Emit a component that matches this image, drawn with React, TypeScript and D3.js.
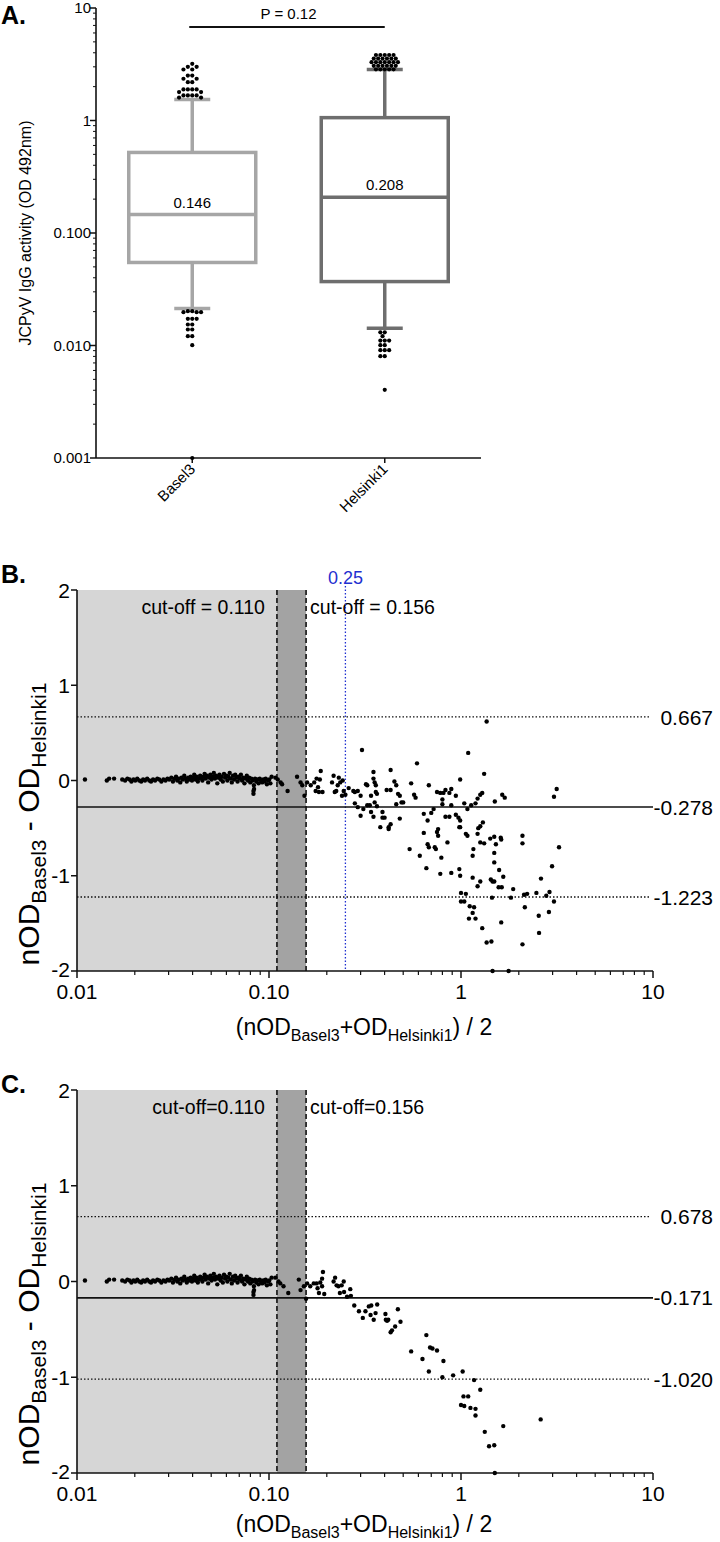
import React from 'react';
import * as d3 from 'd3';

// ---------- Panel A data ----------
const groups = ['Basel3', 'Helsinki1'];
const boxQ1 = [0.0547, 0.037];
const boxMedian = [0.146, 0.208];
const boxQ3 = [0.52, 1.06];
const whiskerLow = [0.0213, 0.0142];
const whiskerHigh = [1.54, 2.84];
const medianLabels = ['0.146', '0.208'];
const groupColors = ['#a6a6a6', '#6e6e6e'];
const baselOutliers = [
  3.19, 3.0, 3.0, 2.84, 2.84, 2.51, 2.51, 2.35, 2.35, 2.19, 2.19,
  1.89, 1.89, 1.89, 1.89, 1.79, 1.79, 1.67, 1.67, 1.67, 1.67, 1.6, 1.6,
  0.0202, 0.0202, 0.0198, 0.0198, 0.0198, 0.01726, 0.01726, 0.01726,
  0.01537, 0.01537, 0.01387, 0.01387, 0.0121, 0.0121, 0.01007, 0.001,
];
const helsinkiOutliers = [
  3.82, 3.82, 3.82, 3.82, 3.82, 3.55, 3.55, 3.55, 3.55, 3.55, 3.55,
  3.3, 3.3, 3.3, 3.3, 3.3, 3.3, 3.3, 3.06, 3.06, 3.06, 3.06, 3.06, 3.06,
  2.85, 2.85, 2.85, 2.85, 2.85,
  0.0131, 0.0131, 0.0121, 0.01107, 0.01107, 0.01107, 0.01006, 0.01006,
  0.00908, 0.00908, 0.00908, 0.00803, 0.00803, 0.00404,
];
const yTicksA = [0.001, 0.01, 0.1, 1, 10];
const yTickLabelsA = ['0.001', '0.010', '0.100', '1', '10'];
const pLabel = 'P = 0.12';
const yTitleA = 'JCPyV IgG activity (OD 492nm)';

// ---------- Panel B / C data : [mean, difference] ----------
const lowBand: [number, number][] = [
  [0.011, 0.01], [0.0143, 0.0], [0.0147, 0.02], [0.0156, 0.02],
  [0.0172, 0.01], [0.0178, 0.0], [0.0183, 0.02], [0.0188, 0.01], [0.0192, -0.01], [0.0197, 0.01],
  [0.0201, 0.0], [0.0206, 0.02], [0.0211, 0.0], [0.0216, -0.01], [0.0221, 0.01], [0.0226, 0.0],
  [0.0232, 0.02], [0.0238, 0.0], [0.0243, -0.01], [0.0249, 0.01], [0.0255, 0.0], [0.0262, 0.02],
  [0.0268, 0.01], [0.0275, -0.01], [0.0282, 0.01], [0.0289, 0.0], [0.0296, 0.02], [0.0302, 0.01],
  [0.031, 0.03], [0.0316, -0.01], [0.0322, 0.02], [0.0328, 0.04], [0.0333, 0.0], [0.0339, 0.02],
  [0.0345, -0.02], [0.035, 0.03], [0.0356, 0.01], [0.0362, 0.05], [0.0368, 0.02], [0.0373, -0.01],
  [0.0379, 0.03], [0.0385, 0.01], [0.0391, 0.04], [0.0397, 0.0], [0.0402, 0.03], [0.0408, 0.06],
  [0.0414, 0.01], [0.042, 0.04], [0.0426, -0.01], [0.0432, 0.02], [0.0438, 0.05], [0.0444, 0.03],
  [0.045, 0.0], [0.0456, 0.04], [0.0462, 0.07], [0.0468, 0.02], [0.0475, 0.05], [0.0482, -0.02],
  [0.0488, 0.03], [0.0495, 0.06], [0.0502, 0.01], [0.0509, 0.04], [0.0516, 0.08], [0.0523, 0.02],
  [0.053, 0.05], [0.0538, -0.03], [0.0545, 0.03], [0.0552, 0.06], [0.056, 0.01], [0.0567, 0.04],
  [0.0575, -0.01], [0.0583, 0.07], [0.0591, 0.03], [0.0599, 0.05], [0.0607, 0.0], [0.0615, 0.04],
  [0.0624, 0.08], [0.0632, 0.02], [0.064, -0.02], [0.0649, 0.05], [0.0658, 0.01], [0.0667, 0.06],
  [0.0676, 0.03], [0.0686, -0.01], [0.0695, 0.04], [0.0705, 0.02], [0.0714, 0.06], [0.0724, 0.0],
  [0.0734, 0.03], [0.0745, -0.03], [0.0755, 0.02], [0.0766, 0.05], [0.0777, 0.0], [0.0788, 0.03],
  [0.0799, -0.02], [0.081, 0.02], [0.0822, 0.0], [0.0834, -0.05], [0.0836, -0.09], [0.083, -0.11],
  [0.083, -0.14], [0.0846, 0.02], [0.0858, -0.01], [0.087, 0.01], [0.0882, -0.03], [0.0895, 0.02],
  [0.0908, 0.0], [0.0921, -0.02], [0.0934, 0.01], [0.0947, -0.01], [0.0961, 0.02], [0.0975, -0.04],
  [0.0989, 0.0], [0.1003, 0.01], [0.1017, -0.03], [0.1032, 0.04],
];

const scatterB: [number, number][] = [
  [0.108, 0.03], [0.111, 0.01], [0.115, -0.02], [0.117, -0.04], [0.125, -0.11],
  [0.14, 0.04], [0.146, -0.02], [0.149, -0.05], [0.153, -0.16], [0.158, -0.02], [0.165, -0.05],
  [0.172, -0.02], [0.177, 0.02], [0.18, -0.07], [0.184, 0.01], [0.186, 0.1], [0.19, -0.12],
  [0.175, -0.11], [0.182, -0.12], [0.213, -0.02], [0.217, 0.05], [0.22, -0.12], [0.224, -0.11],
  [0.231, 0.03], [0.235, -0.02], [0.24, -0.16], [0.228, -0.05], [0.242, 0.0],
  [1.36, 0.62], [0.305, 0.32], [1.09, 0.29], [0.59, 0.18], [0.43, 0.11], [1.32, 0.07], [0.99, 0.01],
  [0.55, -0.03], [0.68, -0.05], [0.89, -0.09], [3.15, -0.09], [3.05, -0.17], [1.64, -0.15],
  [1.69, -0.18], [1.5, -0.22], [1.29, -0.13], [1.26, -0.15], [1.22, -0.19], [1.19, -0.24],
  [1.13, -0.26], [1.08, -0.3], [0.83, -0.1], [0.81, -0.13], [0.78, -0.13], [0.75, -0.12],
  [0.87, -0.13], [0.94, -0.16], [0.8, -0.2], [0.8, -0.25], [0.89, -0.26], [1.04, -0.24],
  [0.72, -0.3], [0.7, -0.34], [0.64, -0.35], [0.67, -0.42], [0.83, -0.38], [0.87, -0.38],
  [0.94, -0.36], [0.97, -0.39], [0.99, -0.42], [0.57, -0.15], [0.58, -0.18], [0.45, -0.01],
  [0.46, -0.05], [0.48, -0.16], [0.49, -0.23], [0.5, -0.23], [0.47, -0.14], [0.41, -0.1],
  [0.43, -0.1], [0.46, -0.25], [0.35, 0.09], [0.35, 0.02], [0.355, -0.02], [0.36, -0.05],
  [0.36, -0.12], [0.365, -0.14], [0.355, -0.23], [0.365, -0.27], [0.32, -0.04], [0.325, -0.05],
  [0.34, -0.16], [0.335, -0.26], [0.325, -0.26], [0.34, -0.33], [0.35, -0.38], [0.3, -0.16],
  [0.31, -0.3], [0.3, -0.37], [0.29, -0.28], [0.28, -0.24], [0.275, -0.11], [0.28, -0.12],
  [0.29, -0.11], [0.39, -0.33], [0.39, -0.39], [0.4, -0.39], [0.38, -0.49], [0.42, -0.51],
  [0.42, -0.49], [0.43, -0.46], [0.48, -0.4], [0.26, -0.08], [0.25, -0.15], [0.245, -0.11],
  [0.64, -0.55], [0.76, -0.51], [0.75, -0.54], [0.76, -0.58], [0.85, -0.65], [0.67, -0.67],
  [0.68, -0.7], [0.73, -0.7], [0.74, -0.72], [0.79, -0.81], [0.54, -0.72], [0.61, -0.79],
  [0.66, -0.92], [0.78, -0.98], [0.98, -0.49], [0.99, -0.49], [1.06, -0.56], [1.08, -0.58],
  [1.23, -0.5], [1.26, -0.48], [1.3, -0.44], [1.22, -0.56], [1.26, -0.65], [1.32, -0.66],
  [1.16, -0.72], [1.15, -0.79], [1.42, -0.61], [1.49, -0.59], [1.61, -0.6], [1.62, -0.62],
  [1.52, -0.67], [1.49, -0.76], [1.49, -0.86], [1.58, -0.94], [1.66, -1.01], [0.89, -0.97],
  [0.98, -0.93], [0.99, -1.0], [1.15, -1.02], [1.22, -1.11], [1.26, -1.06], [1.43, -1.04],
  [1.46, -1.06], [1.49, -1.06], [1.57, -1.12], [1.63, -1.12], [2.09, -0.58], [2.09, -0.66],
  [3.24, -0.7], [2.98, -0.9], [2.61, -1.03], [1.87, -1.14], [1.82, -1.23], [1.45, -1.23],
  [1.0, -1.18], [1.06, -1.19], [1.0, -1.27], [1.04, -1.27], [1.11, -1.32], [1.17, -1.33],
  [2.13, -1.2], [2.21, -1.19], [2.47, -1.18], [2.78, -1.21], [2.89, -1.17], [3.05, -1.27],
  [2.15, -1.33], [1.1, -1.45], [1.15, -1.39], [1.19, -1.45], [1.29, -1.55], [1.62, -1.49],
  [2.54, -1.42], [2.87, -1.38], [2.55, -1.6], [1.36, -1.7], [1.44, -1.69], [2.09, -1.72],
  [1.46, -2.0], [1.77, -2.0],
];

const scatterC: [number, number][] = [
  [0.108, 0.04], [0.112, 0.0], [0.1145, -0.02], [0.119, -0.05], [0.126, -0.12],
  [0.143, 0.02], [0.146, -0.09], [0.152, -0.05], [0.158, -0.02], [0.156, -0.18],
  [0.164, -0.05], [0.171, -0.02], [0.177, -0.02], [0.179, -0.07], [0.182, -0.12], [0.189, 0.03],
  [0.191, 0.1], [0.189, -0.05], [0.194, -0.13], [0.185, -0.01],
  [0.217, 0.0], [0.221, 0.04], [0.225, -0.04], [0.23, -0.05], [0.234, -0.12], [0.239, -0.04],
  [0.245, 0.0], [0.246, -0.11], [0.255, -0.16], [0.265, -0.08], [0.267, -0.15], [0.278, -0.25],
  [0.294, -0.31], [0.308, -0.38], [0.318, -0.31], [0.331, -0.26], [0.341, -0.25], [0.338, -0.35],
  [0.351, -0.4], [0.359, -0.33], [0.366, -0.24], [0.404, -0.34], [0.406, -0.4], [0.412, -0.41],
  [0.418, -0.4], [0.469, -0.29], [0.484, -0.42], [0.43, -0.53], [0.437, -0.51], [0.454, -0.47],
  [0.66, -0.56], [0.55, -0.73], [0.63, -0.81], [0.68, -0.94], [0.69, -0.69], [0.71, -0.7],
  [0.75, -0.72], [0.81, -0.83], [0.8, -1.0], [0.91, -0.98], [1.02, -0.94], [1.17, -1.03],
  [1.26, -1.13], [1.03, -1.2], [1.09, -1.2], [1.0, -1.29], [1.04, -1.3], [1.12, -1.32],
  [1.19, -1.33], [1.19, -1.4], [1.33, -1.57], [1.4, -1.72], [1.49, -1.71], [1.66, -1.51],
  [2.6, -1.44], [1.5, -2.0],
];

const cutoffs = [0.11, 0.156];
const cutoffLabelsB = ['cut-off = 0.110', 'cut-off = 0.156'];
const cutoffLabelsC = ['cut-off=0.110', 'cut-off=0.156'];
const limitsB = [0.667, -0.278, -1.223];
const limitLabelsB = ['0.667', '-0.278', '-1.223'];
const limitsC = [0.678, -0.171, -1.02];
const limitLabelsC = ['0.678', '-0.171', '-1.020'];
const blueMark = 0.25;
const blueLabel = '0.25';
const xTicksBC = [0.01, 0.1, 1, 10];
const xTickLabelsBC = ['0.01', '0.10', '1', '10'];
const yTicksBC = [-2, -1, 0, 1, 2];

const FONT = 'Liberation Sans, Arial, Helvetica, sans-serif';

function swarm(values: number[], cx: number, y: (v: number) => number, step: number, minDist: number) {
  const placed: { x: number; y: number }[] = [];
  const sorted = [...values].sort((a, b) => b - a);
  const offsets: number[] = [0];
  for (let k = 1; k < 40; k++) { offsets.push(-k * step); offsets.push(k * step); }
  for (const v of sorted) {
    const py = y(v);
    for (const o of offsets) {
      const px = cx + o;
      if (placed.every(p => Math.hypot(p.x - px, p.y - py) >= minDist)) {
        placed.push({ x: px, y: py });
        break;
      }
    }
  }
  return placed;
}

function PanelA() {
  const y = d3.scaleLog().domain([0.001, 10]).range([458, 8]);
  const x = d3.scalePoint<string>().domain(groups).range([96, 481]).padding(0.5);
  const minor: number[] = [];
  for (let e = -3; e < 1; e++) for (let m = 2; m <= 9; m++) minor.push(m * Math.pow(10, e));
  const halfW = 63.5;
  const outlierSets = [baselOutliers, helsinkiOutliers];
  return (
    <g fontFamily={FONT}>
      <text x={1} y={24} fontSize={25} fontWeight="bold">A.</text>
      <line x1={96} x2={96} y1={y(10)} y2={y(0.001)} stroke="#111" strokeWidth={1.6} />
      <line x1={96} x2={481} y1={y(0.001)} y2={y(0.001)} stroke="#111" strokeWidth={1.6} />
      {minor.map((m, i) => (
        <line key={i} x1={93} x2={96} y1={y(m)} y2={y(m)} stroke="#111" strokeWidth={1} />
      ))}
      {yTicksA.map((t, i) => (
        <g key={t}>
          <line x1={90} x2={96} y1={y(t)} y2={y(t)} stroke="#111" strokeWidth={1.5} />
          <text x={91} y={y(t)} dy="0.35em" textAnchor="end" fontSize={15}>{yTickLabelsA[i]}</text>
        </g>
      ))}
      <text transform={`translate(31,233) rotate(-90)`} textAnchor="middle" fontSize={16}>{yTitleA}</text>
      {groups.map((g) => {
        const cx = x(g)!;
        return (
          <g key={g}>
            <line x1={cx} x2={cx} y1={y(0.001)} y2={y(0.001) + 5} stroke="#111" strokeWidth={1.5} />
            <text transform={`translate(${cx + 4},${y(0.001) + 12}) rotate(-45)`} textAnchor="end" fontSize={15}>{g}</text>
          </g>
        );
      })}
      <line x1={x('Basel3')! - 3} x2={x('Helsinki1')!} y1={27} y2={27} stroke="#111" strokeWidth={1.8} />
      <text x={(x('Basel3')! + x('Helsinki1')!) / 2} y={19} textAnchor="middle" fontSize={15}>{pLabel}</text>
      {groups.map((g, i) => {
        const cx = x(g)!;
        const c = groupColors[i];
        const sw = 3.5;
        const cap = 18;
        return (
          <g key={g}>
            <rect x={cx - halfW} y={y(boxQ3[i])} width={halfW * 2} height={y(boxQ1[i]) - y(boxQ3[i])}
              fill="white" stroke={c} strokeWidth={sw} />
            <line x1={cx - halfW} x2={cx + halfW} y1={y(boxMedian[i])} y2={y(boxMedian[i])} stroke={c} strokeWidth={sw} />
            <line x1={cx} x2={cx} y1={y(boxQ3[i])} y2={y(whiskerHigh[i])} stroke={c} strokeWidth={sw} />
            <line x1={cx} x2={cx} y1={y(boxQ1[i])} y2={y(whiskerLow[i])} stroke={c} strokeWidth={sw} />
            <line x1={cx - cap} x2={cx + cap} y1={y(whiskerHigh[i])} y2={y(whiskerHigh[i])} stroke={c} strokeWidth={sw} />
            <line x1={cx - cap} x2={cx + cap} y1={y(whiskerLow[i])} y2={y(whiskerLow[i])} stroke={c} strokeWidth={sw} />
            <text x={cx} y={y(boxMedian[i]) - 7} textAnchor="middle" fontSize={15}>{medianLabels[i]}</text>
            {swarm(outlierSets[i], cx, (v) => y(v), 2.2, 4.0).map((p, j) => (
              <circle key={j} cx={p.x} cy={p.y} r={2.1} fill="#000" />
            ))}
          </g>
        );
      })}
    </g>
  );
}

function PanelBA(props: {
  top: number; bottom: number; label: string; labelY: number; data: [number, number][];
  limits: number[]; limitLabels: string[]; cutLabels: string[]; blue: boolean; xTitleY: number; yTitleC: number;
}) {
  const { top, bottom, label, labelY, data, limits, limitLabels, cutLabels, blue, xTitleY, yTitleC } = props;
  const x = d3.scaleLog().domain([0.01, 10]).range([77, 653]);
  const y = d3.scaleLinear().domain([-2, 2]).range([bottom, top]);
  const minor: number[] = [];
  for (let e = -2; e < 1; e++) for (let m = 2; m <= 9; m++) minor.push(m * Math.pow(10, e));
  const all = [...lowBand, ...data];
  return (
    <g fontFamily={FONT}>
      <text x={1} y={labelY} fontSize={25} fontWeight="bold">{label}</text>
      <rect x={x(0.01)} y={top} width={x(cutoffs[0]) - x(0.01)} height={bottom - top} fill="#d6d6d6" />
      <rect x={x(cutoffs[0])} y={top} width={x(cutoffs[1]) - x(cutoffs[0])} height={bottom - top} fill="#a3a3a3" />
      {cutoffs.map(c => (
        <line key={c} x1={x(c)} x2={x(c)} y1={top} y2={bottom} stroke="#111" strokeWidth={1.6} strokeDasharray="5,3" />
      ))}
      <text x={x(cutoffs[0]) - 12} y={top + 24} textAnchor="end" fontSize={19.5}>{cutLabels[0]}</text>
      <text x={x(cutoffs[1]) + 4} y={top + 24} textAnchor="start" fontSize={19.5}>{cutLabels[1]}</text>
      {blue && (
        <g>
          <line x1={x(blueMark)} x2={x(blueMark)} y1={top - 4} y2={bottom} stroke="#1f2fd0" strokeWidth={1.3} strokeDasharray="1.5,2" />
          <text x={x(blueMark)} y={top - 6} textAnchor="middle" fontSize={18} fill="#1f2fd0">{blueLabel}</text>
        </g>
      )}
      <line x1={x(0.01)} x2={650} y1={y(limits[0])} y2={y(limits[0])} stroke="#111" strokeWidth={1.3} strokeDasharray="1.5,2" />
      <line x1={x(0.01)} x2={653} y1={y(limits[1])} y2={y(limits[1])} stroke="#111" strokeWidth={1.7} />
      <line x1={x(0.01)} x2={650} y1={y(limits[2])} y2={y(limits[2])} stroke="#111" strokeWidth={1.3} strokeDasharray="1.5,2" />
      {limits.map((l, i) => (
        <text key={i} x={713} y={y(l)} dy="0.36em" textAnchor="end" fontSize={21}>{limitLabels[i]}</text>
      ))}
      <line x1={77} x2={77} y1={top} y2={bottom} stroke="#111" strokeWidth={1.6} />
      <line x1={77} x2={653} y1={bottom} y2={bottom} stroke="#111" strokeWidth={1.6} />
      {yTicksBC.map(t => (
        <g key={t}>
          <line x1={71} x2={77} y1={y(t)} y2={y(t)} stroke="#111" strokeWidth={1.5} />
          <text x={70} y={t === -2 ? y(t) - 2 : y(t)} dy="0.36em" textAnchor="end" fontSize={21}>{t}</text>
        </g>
      ))}
      {minor.map((m, i) => (
        <line key={i} x1={x(m)} x2={x(m)} y1={bottom} y2={bottom + 4} stroke="#111" strokeWidth={1.2} />
      ))}
      {xTicksBC.map((t, i) => (
        <g key={t}>
          <line x1={x(t)} x2={x(t)} y1={bottom} y2={bottom + 7} stroke="#111" strokeWidth={1.5} />
          <text x={x(t)} y={bottom + 28} textAnchor="middle" fontSize={21}>{xTickLabelsBC[i]}</text>
        </g>
      ))}
      {all.map((d, i) => (
        <circle key={i} cx={x(d[0])} cy={y(Math.max(-2, d[1]))} r={2.2} fill="#000" />
      ))}
      <text x={364} y={xTitleY} textAnchor="middle" fontSize={23}>
        <tspan>(nOD</tspan>
        <tspan fontSize={16} dy={6}>Basel3</tspan>
        <tspan dy={-6}>+OD</tspan>
        <tspan fontSize={16} dy={6}>Helsinki1</tspan>
        <tspan dy={-6}>) / 2</tspan>
      </text>
      <text transform={`translate(39,${yTitleC}) rotate(-90)`} textAnchor="middle" fontSize={30}>
        <tspan>nOD</tspan>
        <tspan fontSize={21} dy={7}>Basel3</tspan>
        <tspan dy={-7}> - OD</tspan>
        <tspan fontSize={21} dy={7}>Helsinki1</tspan>
      </text>
    </g>
  );
}

export default function App() {
  return (
    <svg width={720} height={1542} style={{ position: 'absolute', left: 0, top: 0, background: '#fff' }}>
      <rect x={0} y={0} width={720} height={1542} fill="#fff" />
      <PanelA />
      <PanelBA top={590} bottom={971} label="B." labelY={583} data={scatterB} limits={limitsB}
        limitLabels={limitLabelsB} cutLabels={cutoffLabelsB} blue={true} xTitleY={1035} yTitleC={824} />
      <PanelBA top={1090} bottom={1473} label="C." labelY={1093} data={scatterC} limits={limitsC}
        limitLabels={limitLabelsC} cutLabels={cutoffLabelsC} blue={false} xTitleY={1532} yTitleC={1324} />
    </svg>
  );
}
